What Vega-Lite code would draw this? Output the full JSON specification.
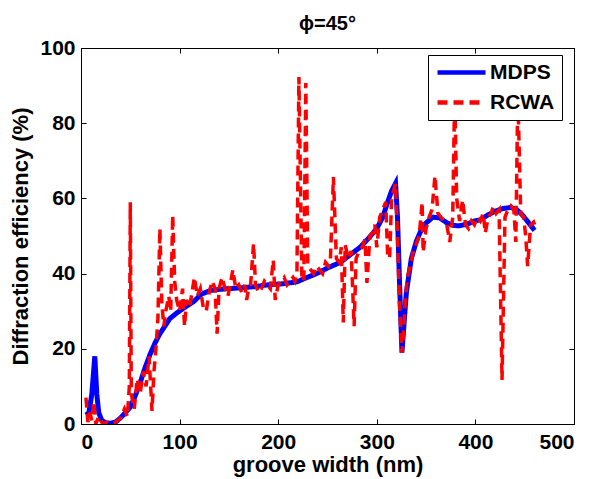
{
  "$schema": "https://vega.github.io/schema/vega-lite/v6.json",
  "width": 493,
  "height": 376,
  "autosize": {"type": "none"},
  "padding": {"left": 81, "top": 48, "right": 18, "bottom": 55},
  "background": "white",
  "title": {"text": "ϕ=45°", "font": "Liberation Sans", "fontSize": 20, "fontWeight": "bold", "offset": 3, "color": "black"},
  "config": {
    "view": {"stroke": "black", "strokeWidth": 1},
    "axis": {
      "grid": false,
      "domainColor": "black",
      "tickColor": "black",
      "labelColor": "black",
      "titleColor": "black",
      "labelFont": "Liberation Sans",
      "titleFont": "Liberation Sans",
      "labelFontSize": 21,
      "labelFontWeight": "bold",
      "titleFontSize": 22,
      "titleFontWeight": "bold",
      "tickSize": -5,
      "labelPadding": 12
    },
    "legend": {
      "labelFont": "Liberation Sans",
      "labelFontSize": 21,
      "labelFontWeight": "bold",
      "labelColor": "black"
    }
  },
  "data": {
    "values": [
      {"series": "MDPS", "x": 5, "y": 2.4},
      {"series": "MDPS", "x": 8, "y": 3},
      {"series": "MDPS", "x": 11, "y": 8},
      {"series": "MDPS", "x": 14, "y": 18},
      {"series": "MDPS", "x": 16, "y": 8},
      {"series": "MDPS", "x": 18, "y": 3},
      {"series": "MDPS", "x": 21, "y": 1},
      {"series": "MDPS", "x": 25, "y": 0.3},
      {"series": "MDPS", "x": 30, "y": 0.2},
      {"series": "MDPS", "x": 35, "y": 0.5},
      {"series": "MDPS", "x": 40, "y": 1.6},
      {"series": "MDPS", "x": 45, "y": 3},
      {"series": "MDPS", "x": 50, "y": 4.5},
      {"series": "MDPS", "x": 55, "y": 7.5},
      {"series": "MDPS", "x": 60, "y": 11},
      {"series": "MDPS", "x": 65, "y": 15},
      {"series": "MDPS", "x": 70, "y": 18.5},
      {"series": "MDPS", "x": 75, "y": 21.5},
      {"series": "MDPS", "x": 80, "y": 24},
      {"series": "MDPS", "x": 85, "y": 26},
      {"series": "MDPS", "x": 90, "y": 28},
      {"series": "MDPS", "x": 97, "y": 29.5},
      {"series": "MDPS", "x": 105, "y": 31},
      {"series": "MDPS", "x": 114, "y": 32.5},
      {"series": "MDPS", "x": 122, "y": 34.5},
      {"series": "MDPS", "x": 131, "y": 35.5},
      {"series": "MDPS", "x": 140, "y": 35.8},
      {"series": "MDPS", "x": 150, "y": 36},
      {"series": "MDPS", "x": 161, "y": 36.2},
      {"series": "MDPS", "x": 175, "y": 36.5},
      {"series": "MDPS", "x": 189, "y": 37},
      {"series": "MDPS", "x": 205, "y": 37.3},
      {"series": "MDPS", "x": 219, "y": 37.8},
      {"series": "MDPS", "x": 225, "y": 38.5},
      {"series": "MDPS", "x": 239, "y": 40},
      {"series": "MDPS", "x": 250, "y": 41.5},
      {"series": "MDPS", "x": 263, "y": 43},
      {"series": "MDPS", "x": 273, "y": 45},
      {"series": "MDPS", "x": 283, "y": 47},
      {"series": "MDPS", "x": 292, "y": 49.5},
      {"series": "MDPS", "x": 300, "y": 52},
      {"series": "MDPS", "x": 306, "y": 55},
      {"series": "MDPS", "x": 311, "y": 59},
      {"series": "MDPS", "x": 315, "y": 62},
      {"series": "MDPS", "x": 319, "y": 64},
      {"series": "MDPS", "x": 321, "y": 55},
      {"series": "MDPS", "x": 323, "y": 38},
      {"series": "MDPS", "x": 325.5, "y": 19},
      {"series": "MDPS", "x": 328, "y": 28},
      {"series": "MDPS", "x": 330, "y": 35},
      {"series": "MDPS", "x": 335, "y": 44},
      {"series": "MDPS", "x": 340, "y": 48.5},
      {"series": "MDPS", "x": 344, "y": 51},
      {"series": "MDPS", "x": 350, "y": 53.5},
      {"series": "MDPS", "x": 357, "y": 55},
      {"series": "MDPS", "x": 364, "y": 54.8},
      {"series": "MDPS", "x": 371, "y": 53.5},
      {"series": "MDPS", "x": 378, "y": 52.8},
      {"series": "MDPS", "x": 384, "y": 52.7},
      {"series": "MDPS", "x": 392, "y": 53.2},
      {"series": "MDPS", "x": 399, "y": 54},
      {"series": "MDPS", "x": 405, "y": 54.3},
      {"series": "MDPS", "x": 412, "y": 55.5},
      {"series": "MDPS", "x": 420, "y": 56.6},
      {"series": "MDPS", "x": 428, "y": 57.3},
      {"series": "MDPS", "x": 436, "y": 57.6},
      {"series": "MDPS", "x": 442, "y": 57},
      {"series": "MDPS", "x": 448, "y": 55.5},
      {"series": "MDPS", "x": 454, "y": 53.5},
      {"series": "MDPS", "x": 460, "y": 51.5},
      {"series": "RCWA", "x": 5, "y": 7},
      {"series": "RCWA", "x": 7, "y": 0.5},
      {"series": "RCWA", "x": 9, "y": 3},
      {"series": "RCWA", "x": 11, "y": 1},
      {"series": "RCWA", "x": 13, "y": 6},
      {"series": "RCWA", "x": 15, "y": 0},
      {"series": "RCWA", "x": 18, "y": 2},
      {"series": "RCWA", "x": 22, "y": 0},
      {"series": "RCWA", "x": 26, "y": 0.5},
      {"series": "RCWA", "x": 30, "y": 0},
      {"series": "RCWA", "x": 35, "y": 0.5},
      {"series": "RCWA", "x": 40, "y": 1.5},
      {"series": "RCWA", "x": 44, "y": 4},
      {"series": "RCWA", "x": 47, "y": 2},
      {"series": "RCWA", "x": 49, "y": 10},
      {"series": "RCWA", "x": 50, "y": 59},
      {"series": "RCWA", "x": 51, "y": 8},
      {"series": "RCWA", "x": 54, "y": 4},
      {"series": "RCWA", "x": 57, "y": 12},
      {"series": "RCWA", "x": 60, "y": 8},
      {"series": "RCWA", "x": 63, "y": 14},
      {"series": "RCWA", "x": 66, "y": 10},
      {"series": "RCWA", "x": 69, "y": 18},
      {"series": "RCWA", "x": 72, "y": 3.5},
      {"series": "RCWA", "x": 74, "y": 14},
      {"series": "RCWA", "x": 76, "y": 20},
      {"series": "RCWA", "x": 78, "y": 28},
      {"series": "RCWA", "x": 80, "y": 52},
      {"series": "RCWA", "x": 82, "y": 32},
      {"series": "RCWA", "x": 84, "y": 26},
      {"series": "RCWA", "x": 86, "y": 30},
      {"series": "RCWA", "x": 89, "y": 34},
      {"series": "RCWA", "x": 91, "y": 30},
      {"series": "RCWA", "x": 93, "y": 55.5},
      {"series": "RCWA", "x": 95, "y": 38},
      {"series": "RCWA", "x": 97, "y": 33},
      {"series": "RCWA", "x": 100, "y": 30},
      {"series": "RCWA", "x": 103, "y": 36},
      {"series": "RCWA", "x": 105, "y": 26},
      {"series": "RCWA", "x": 107, "y": 33},
      {"series": "RCWA", "x": 110, "y": 31},
      {"series": "RCWA", "x": 112, "y": 34},
      {"series": "RCWA", "x": 115, "y": 39},
      {"series": "RCWA", "x": 118, "y": 34},
      {"series": "RCWA", "x": 121, "y": 36},
      {"series": "RCWA", "x": 124, "y": 31},
      {"series": "RCWA", "x": 127, "y": 30},
      {"series": "RCWA", "x": 130, "y": 35},
      {"series": "RCWA", "x": 133, "y": 38},
      {"series": "RCWA", "x": 136, "y": 36},
      {"series": "RCWA", "x": 138, "y": 24},
      {"series": "RCWA", "x": 140, "y": 36},
      {"series": "RCWA", "x": 143, "y": 39},
      {"series": "RCWA", "x": 146, "y": 36},
      {"series": "RCWA", "x": 149, "y": 34},
      {"series": "RCWA", "x": 152, "y": 38},
      {"series": "RCWA", "x": 154, "y": 41},
      {"series": "RCWA", "x": 157, "y": 36},
      {"series": "RCWA", "x": 160, "y": 37},
      {"series": "RCWA", "x": 163, "y": 35},
      {"series": "RCWA", "x": 166, "y": 37},
      {"series": "RCWA", "x": 168, "y": 33},
      {"series": "RCWA", "x": 170, "y": 36},
      {"series": "RCWA", "x": 172, "y": 37},
      {"series": "RCWA", "x": 175, "y": 48},
      {"series": "RCWA", "x": 177, "y": 37},
      {"series": "RCWA", "x": 180, "y": 35},
      {"series": "RCWA", "x": 183, "y": 36},
      {"series": "RCWA", "x": 186, "y": 38},
      {"series": "RCWA", "x": 189, "y": 37},
      {"series": "RCWA", "x": 192, "y": 36},
      {"series": "RCWA", "x": 195, "y": 43.6},
      {"series": "RCWA", "x": 197, "y": 33},
      {"series": "RCWA", "x": 200, "y": 37},
      {"series": "RCWA", "x": 203, "y": 38},
      {"series": "RCWA", "x": 206, "y": 39},
      {"series": "RCWA", "x": 209, "y": 37},
      {"series": "RCWA", "x": 212, "y": 38},
      {"series": "RCWA", "x": 215, "y": 39},
      {"series": "RCWA", "x": 217, "y": 38},
      {"series": "RCWA", "x": 219, "y": 40},
      {"series": "RCWA", "x": 221, "y": 92.3},
      {"series": "RCWA", "x": 224, "y": 39},
      {"series": "RCWA", "x": 226, "y": 38},
      {"series": "RCWA", "x": 228, "y": 90.7},
      {"series": "RCWA", "x": 230, "y": 42},
      {"series": "RCWA", "x": 233, "y": 41},
      {"series": "RCWA", "x": 236, "y": 40},
      {"series": "RCWA", "x": 239, "y": 42},
      {"series": "RCWA", "x": 242, "y": 41},
      {"series": "RCWA", "x": 245, "y": 40},
      {"series": "RCWA", "x": 248, "y": 43},
      {"series": "RCWA", "x": 251, "y": 42},
      {"series": "RCWA", "x": 253, "y": 44},
      {"series": "RCWA", "x": 256, "y": 65.7},
      {"series": "RCWA", "x": 259, "y": 44},
      {"series": "RCWA", "x": 262, "y": 43},
      {"series": "RCWA", "x": 264, "y": 47},
      {"series": "RCWA", "x": 266, "y": 27},
      {"series": "RCWA", "x": 268, "y": 47.6},
      {"series": "RCWA", "x": 271, "y": 44},
      {"series": "RCWA", "x": 274, "y": 46},
      {"series": "RCWA", "x": 277, "y": 26},
      {"series": "RCWA", "x": 279, "y": 44},
      {"series": "RCWA", "x": 282, "y": 46},
      {"series": "RCWA", "x": 285, "y": 47},
      {"series": "RCWA", "x": 288, "y": 49},
      {"series": "RCWA", "x": 290, "y": 37.5},
      {"series": "RCWA", "x": 293, "y": 50},
      {"series": "RCWA", "x": 296, "y": 51},
      {"series": "RCWA", "x": 298, "y": 53},
      {"series": "RCWA", "x": 300, "y": 47},
      {"series": "RCWA", "x": 303, "y": 55},
      {"series": "RCWA", "x": 306, "y": 57},
      {"series": "RCWA", "x": 309, "y": 59},
      {"series": "RCWA", "x": 311, "y": 45},
      {"series": "RCWA", "x": 313, "y": 44},
      {"series": "RCWA", "x": 315, "y": 60},
      {"series": "RCWA", "x": 317, "y": 62},
      {"series": "RCWA", "x": 319, "y": 64},
      {"series": "RCWA", "x": 321, "y": 50},
      {"series": "RCWA", "x": 323, "y": 32},
      {"series": "RCWA", "x": 325.5, "y": 19},
      {"series": "RCWA", "x": 327, "y": 24},
      {"series": "RCWA", "x": 329, "y": 33},
      {"series": "RCWA", "x": 331, "y": 39},
      {"series": "RCWA", "x": 334, "y": 42},
      {"series": "RCWA", "x": 337, "y": 46},
      {"series": "RCWA", "x": 340, "y": 48},
      {"series": "RCWA", "x": 343, "y": 50},
      {"series": "RCWA", "x": 346, "y": 59},
      {"series": "RCWA", "x": 347, "y": 45.7},
      {"series": "RCWA", "x": 350, "y": 52},
      {"series": "RCWA", "x": 353, "y": 55},
      {"series": "RCWA", "x": 356, "y": 57},
      {"series": "RCWA", "x": 359, "y": 66},
      {"series": "RCWA", "x": 362, "y": 56},
      {"series": "RCWA", "x": 365, "y": 55},
      {"series": "RCWA", "x": 368, "y": 54},
      {"series": "RCWA", "x": 371, "y": 53},
      {"series": "RCWA", "x": 374, "y": 48.4},
      {"series": "RCWA", "x": 377, "y": 55},
      {"series": "RCWA", "x": 379, "y": 88},
      {"series": "RCWA", "x": 381, "y": 60},
      {"series": "RCWA", "x": 384, "y": 54},
      {"series": "RCWA", "x": 387, "y": 59.6},
      {"series": "RCWA", "x": 390, "y": 53},
      {"series": "RCWA", "x": 393, "y": 52},
      {"series": "RCWA", "x": 396, "y": 54},
      {"series": "RCWA", "x": 399, "y": 53},
      {"series": "RCWA", "x": 402, "y": 55},
      {"series": "RCWA", "x": 405, "y": 54},
      {"series": "RCWA", "x": 408, "y": 56},
      {"series": "RCWA", "x": 410, "y": 50.8},
      {"series": "RCWA", "x": 413, "y": 55},
      {"series": "RCWA", "x": 416, "y": 56},
      {"series": "RCWA", "x": 418, "y": 57.7},
      {"series": "RCWA", "x": 421, "y": 56},
      {"series": "RCWA", "x": 424, "y": 57},
      {"series": "RCWA", "x": 427, "y": 11.7},
      {"series": "RCWA", "x": 430, "y": 55},
      {"series": "RCWA", "x": 433, "y": 57},
      {"series": "RCWA", "x": 436, "y": 58},
      {"series": "RCWA", "x": 439, "y": 57},
      {"series": "RCWA", "x": 441, "y": 48.4},
      {"series": "RCWA", "x": 443, "y": 88},
      {"series": "RCWA", "x": 446, "y": 56},
      {"series": "RCWA", "x": 449, "y": 55},
      {"series": "RCWA", "x": 451, "y": 50},
      {"series": "RCWA", "x": 453, "y": 42},
      {"series": "RCWA", "x": 456, "y": 53},
      {"series": "RCWA", "x": 459, "y": 53.7},
      {"series": "RCWA", "x": 460, "y": 53}
    ]
  },
  "encoding": {
    "color": {
      "field": "series",
      "type": "nominal",
      "scale": {"domain": ["MDPS", "RCWA"], "range": ["#0000ff", "#ff0000"]},
      "legend": {
        "title": null,
        "orient": "none",
        "legendX": 347,
        "legendY": 7,
        "fillColor": "white",
        "strokeColor": "black",
        "padding": 7,
        "symbolType": "M-1,0H5",
        "symbolSize": 256,
        "symbolStrokeWidth": 4.5,
        "labelOffset": 34,
        "rowPadding": 8,
        "zindex": 2
      }
    },
    "strokeDash": {
      "field": "series",
      "type": "nominal",
      "scale": {"domain": ["MDPS", "RCWA"], "range": [[1, 0], [10, 6]]},
      "legend": {
        "title": null,
        "orient": "none",
        "legendX": 347,
        "legendY": 7,
        "fillColor": "white",
        "strokeColor": "black",
        "padding": 7,
        "symbolType": "M-1,0H5",
        "symbolSize": 256,
        "symbolStrokeWidth": 4.5,
        "labelOffset": 34,
        "rowPadding": 8,
        "zindex": 2
      }
    }
  },
  "layer": [
    {
      "transform": [{"filter": "datum.series === 'MDPS'"}],
      "mark": {"type": "line", "strokeWidth": 5, "clip": true},
      "encoding": {
        "x": {
          "field": "x", "type": "quantitative",
          "scale": {"domain": [0, 500], "nice": false},
          "axis": {"orient": "bottom", "values": [0, 100, 200, 300, 400, 500], "title": "groove width (nm)", "labelPadding": 12, "titlePadding": 2}
        },
        "y": {
          "field": "y", "type": "quantitative",
          "scale": {"domain": [0, 100], "nice": false},
          "axis": {"orient": "left", "values": [0, 20, 40, 60, 80, 100], "title": "Diffraction efficiency (%)", "labelPadding": 11, "titlePadding": 7}
        }
      }
    },
    {
      "transform": [{"filter": "datum.series === 'RCWA'"}],
      "mark": {"type": "line", "strokeWidth": 3.5, "clip": true},
      "encoding": {
        "x": {
          "field": "x", "type": "quantitative",
          "scale": {"domain": [0, 500], "nice": false},
          "axis": {"orient": "top", "values": [0, 100, 200, 300, 400, 500], "labels": false, "title": null}
        },
        "y": {
          "field": "y", "type": "quantitative",
          "scale": {"domain": [0, 100], "nice": false},
          "axis": {"orient": "right", "values": [0, 20, 40, 60, 80, 100], "labels": false, "title": null}
        }
      }
    }
  ],
  "resolve": {"axis": {"x": "independent", "y": "independent"}}
}
